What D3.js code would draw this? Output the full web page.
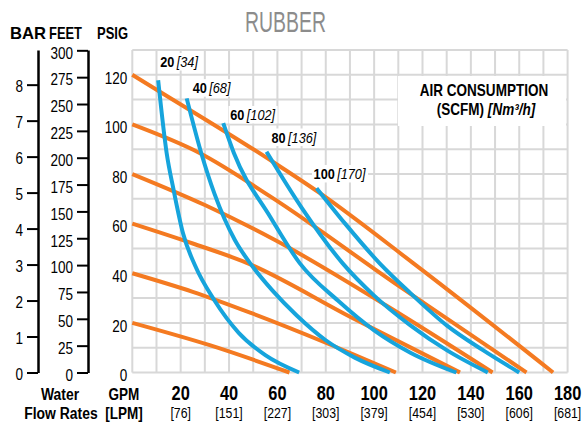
<!DOCTYPE html>
<html>
<head>
<meta charset="utf-8">
<script src="https://cdn.jsdelivr.net/npm/d3@7"></script>
<style>
  html, body { margin: 0; padding: 0; background: #fff; }
  svg { display: block; font-family: "Liberation Sans", Arial, sans-serif; }
</style>
</head>
<body>
<svg id="chart" width="582" height="426"></svg>
<script>
// ---- axis ticks ----
const gpmTicks = [20, 40, 60, 80, 100, 120, 140, 160, 180];
const lpmTicks = ["[76]", "[151]", "[227]", "[303]", "[379]", "[454]", "[530]", "[606]", "[681]"];
const psigTicks = [0, 20, 40, 60, 80, 100, 120];
const barTicks = [0, 1, 2, 3, 4, 5, 6, 7, 8];
const feetTicks = [0, 25, 50, 75, 100, 125, 150, 175, 200, 225, 250, 275, 300];

// ---- inlet air pressure lines: [GPM, PSIG] ----
const psi120 = [[0, 120], [11.4, 113.2], [56.9, 85.7], [77.6, 72.3], [116, 44.2], [174, 0]];
const psi100 = [[0, 100], [28, 88.4], [57, 71], [110, 35], [163, 0]];
const psi80  = [[0, 80], [30, 67.5], [59, 53.4], [105, 27], [149, 0]];
const psi60  = [[0, 60], [25, 52], [47.8, 44], [90, 22.5], [135.5, 0]];
const psi40  = [[0, 40], [25, 32.5], [49, 24], [80, 12], [109, 0]];
const psi20  = [[0, 20], [32, 11], [65, 0]];

// ---- air consumption curves: [GPM, PSIG] ----
const scfm20  = [[10.7, 117.8], [14.2, 88.5], [17, 74], [21, 56], [26, 43], [34, 29], [44, 16], [55, 7], [69, 0]];
const scfm40  = [[22.5, 110.5], [28.5, 88.5], [34, 72], [42.4, 53.4], [49.3, 43.3], [58, 33], [68, 23], [80, 13], [92, 6], [106.5, 0]];
const scfm60  = [[37.6, 100.5], [42, 88.5], [57, 62.8], [69.3, 44], [85, 29], [100, 17], [115, 8], [134, 0]];
const scfm80  = [[55.5, 89], [70, 66.5], [87, 44], [100, 31], [115, 19], [130, 9], [147, 0]];
const scfm100 = [[76.2, 74.3], [88, 60], [102.3, 44], [115, 32], [130, 19], [145, 9], [160, 0]];

const scfmNames = ["20", "40", "60", "80", "100"];
const nm3Names = ["[34]", "[68]", "[102]", "[136]", "[170]"];

const pressureLines = [psi120, psi100, psi80, psi60, psi40, psi20];
const consumptionCurves = [scfm20, scfm40, scfm60, scfm80, scfm100];

// ---- layout ----
const svg = d3.select("#chart");
const x = d3.scaleLinear().domain([0, 180]).range([132.3, 567.6]);
const y = d3.scaleLinear().domain([0, 130]).range([372.5, 50]);
const PSI_PER_BAR = 14.5038;
const FT_PER_PSI = 2.31;
const yBar = d3.scaleLinear().domain([0, 130 / PSI_PER_BAR]).range([372.5, 50]);
const yFeet = d3.scaleLinear().domain([0, 130 * FT_PER_PSI]).range([372.5, 50]);

const ORANGE = "#f47a21";
const BLUE = "#16a4dc";
const GRID = "#d8d8d8";
const SX = 0.82; // horizontal squeeze giving a condensed face

// squeeze text horizontally around its anchor point
function narrow(sel) {
  sel.each(function () {
    const xv = +this.getAttribute("x") || 0;
    this.setAttribute("x", xv / SX);
    this.setAttribute("transform", `scale(${SX},1)`);
  });
}

// title
svg.append("text")
  .attr("x", 245).attr("y", 32)
  .attr("font-size", 29)
  .attr("fill", "#8c8c8c")
  .attr("textLength", 81)
  .attr("lengthAdjust", "spacingAndGlyphs")
  .text("RUBBER");

// grid
const grid = svg.append("g").attr("stroke", GRID).attr("stroke-width", 2);
grid.selectAll("line.v").data(d3.range(0, 181, 10)).join("line")
  .attr("class", "v")
  .attr("x1", d => x(d)).attr("x2", d => x(d))
  .attr("y1", y(130)).attr("y2", y(0));
grid.selectAll("line.h").data(d3.range(0, 131, 10)).join("line")
  .attr("class", "h")
  .attr("x1", x(0)).attr("x2", x(180))
  .attr("y1", d => y(d)).attr("y2", d => y(d));

// legend box
const legend = svg.append("g");
legend.append("rect")
  .attr("x", 398).attr("y", 76).attr("width", 168).attr("height", 50)
  .attr("fill", "#fff");
legend.append("text")
  .attr("x", 484).attr("y", 96)
  .attr("text-anchor", "middle")
  .attr("font-size", 16.5).attr("font-weight", "bold")
  .text("AIR CONSUMPTION");
const l2 = legend.append("text")
  .attr("x", 486).attr("y", 115)
  .attr("text-anchor", "middle")
  .attr("font-size", 16.5).attr("font-weight", "bold");
l2.append("tspan").text("(SCFM) ");
l2.append("tspan").attr("font-style", "italic").text("[Nm³/h]");
narrow(legend.selectAll("text"));

// curves
const line = d3.line()
  .x(d => x(d[0])).y(d => y(d[1]))
  .curve(d3.curveMonotoneX);

svg.append("g").selectAll("path").data(pressureLines).join("path")
  .attr("d", line)
  .attr("fill", "none")
  .attr("stroke", ORANGE)
  .attr("stroke-width", 4);

svg.append("g").selectAll("path").data(consumptionCurves).join("path")
  .attr("d", line)
  .attr("fill", "none")
  .attr("stroke", BLUE)
  .attr("stroke-width", 4);

// curve labels, placed just above the start of each consumption curve
const labelOffsets = [[2, -13], [6, -5], [7, -3], [5, -9], [-3, -9]];
const labels = svg.append("g");
consumptionCurves.forEach((c, i) => {
  const g = labels.append("g")
    .attr("transform", `translate(${x(c[0][0]) + labelOffsets[i][0]},${y(c[0][1]) + labelOffsets[i][1]}) scale(${SX},1)`);
  const t = g.append("text").attr("font-size", 15.5);
  t.append("tspan").attr("font-weight", "bold").text(scfmNames[i]);
  t.append("tspan").attr("dx", 3).attr("font-style", "italic").text(nm3Names[i]);
  const bb = t.node().getBBox();
  g.insert("rect", "text")
    .attr("x", bb.x - 2).attr("y", bb.y)
    .attr("width", bb.width + 4).attr("height", bb.height)
    .attr("fill", "#fff");
});

// PSIG labels
const psig = svg.append("g")
  .attr("transform", `translate(${x(0)},0)`)
  .call(d3.axisLeft(y).tickValues(psigTicks).tickSize(0).tickPadding(5));
psig.select(".domain").remove();
psig.selectAll("text").attr("font-size", 16.5).attr("font-family", null).attr("fill", "#000")
  .attr("y", 3);
narrow(psig.selectAll("text"));

// BAR axis
const bar = svg.append("g")
  .attr("transform", "translate(38,0)")
  .call(d3.axisLeft(yBar).tickValues(barTicks).tickSizeInner(11).tickSizeOuter(0).tickPadding(4).tickFormat(d3.format("d")));
bar.select(".domain").attr("stroke-width", 2.5);
bar.selectAll(".tick line").attr("stroke-width", 2);
bar.selectAll("text").attr("font-size", 16.5).attr("font-family", null).attr("fill", "#000")
  .attr("y", 2);
narrow(bar.selectAll("text"));

// FEET axis
const feet = svg.append("g")
  .attr("transform", "translate(88,0)")
  .call(d3.axisLeft(yFeet).tickValues(feetTicks).tickSizeInner(11).tickSizeOuter(0).tickPadding(4).tickFormat(d3.format("d")));
feet.select(".domain").attr("stroke-width", 2.5);
feet.selectAll(".tick line").attr("stroke-width", 2);
feet.selectAll("text").attr("font-size", 16.5).attr("font-family", null).attr("fill", "#000")
  .attr("y", 2.5);
narrow(feet.selectAll("text"));

// axis headers
const headers = svg.append("g").attr("font-size", 17).attr("font-weight", "bold");
headers.append("text").attr("x", 10).attr("y", 39)
  .attr("textLength", 36).attr("lengthAdjust", "spacingAndGlyphs").text("BAR");
headers.append("text").attr("x", 49).attr("y", 39)
  .attr("textLength", 33).attr("lengthAdjust", "spacingAndGlyphs").text("FEET");
headers.append("text").attr("x", 97).attr("y", 39)
  .attr("textLength", 31).attr("lengthAdjust", "spacingAndGlyphs").text("PSIG");

// flow rate axis labels
const bottom = svg.append("g");
bottom.selectAll("text.gpm").data(gpmTicks).join("text")
  .attr("class", "gpm")
  .attr("x", d => x(d)).attr("y", 400)
  .attr("text-anchor", "middle")
  .attr("font-size", 20).attr("font-weight", "bold")
  .text(d => d);
bottom.selectAll("text.lpm").data(lpmTicks).join("text")
  .attr("class", "lpm")
  .attr("x", (d, i) => x(gpmTicks[i])).attr("y", 418)
  .attr("text-anchor", "middle")
  .attr("font-size", 15)
  .text(d => d);
narrow(bottom.selectAll("text"));

const unit = svg.append("g").attr("font-weight", "bold").attr("text-anchor", "middle");
unit.append("text").attr("x", 60).attr("y", 400).attr("font-size", 17).text("Water");
unit.append("text").attr("x", 61).attr("y", 419).attr("font-size", 17).text("Flow Rates");
unit.append("text").attr("x", 124).attr("y", 400).attr("font-size", 16.5).text("GPM");
unit.append("text").attr("x", 124).attr("y", 419).attr("font-size", 16.5).text("[LPM]");
narrow(unit.selectAll("text"));
</script>
</body>
</html>
